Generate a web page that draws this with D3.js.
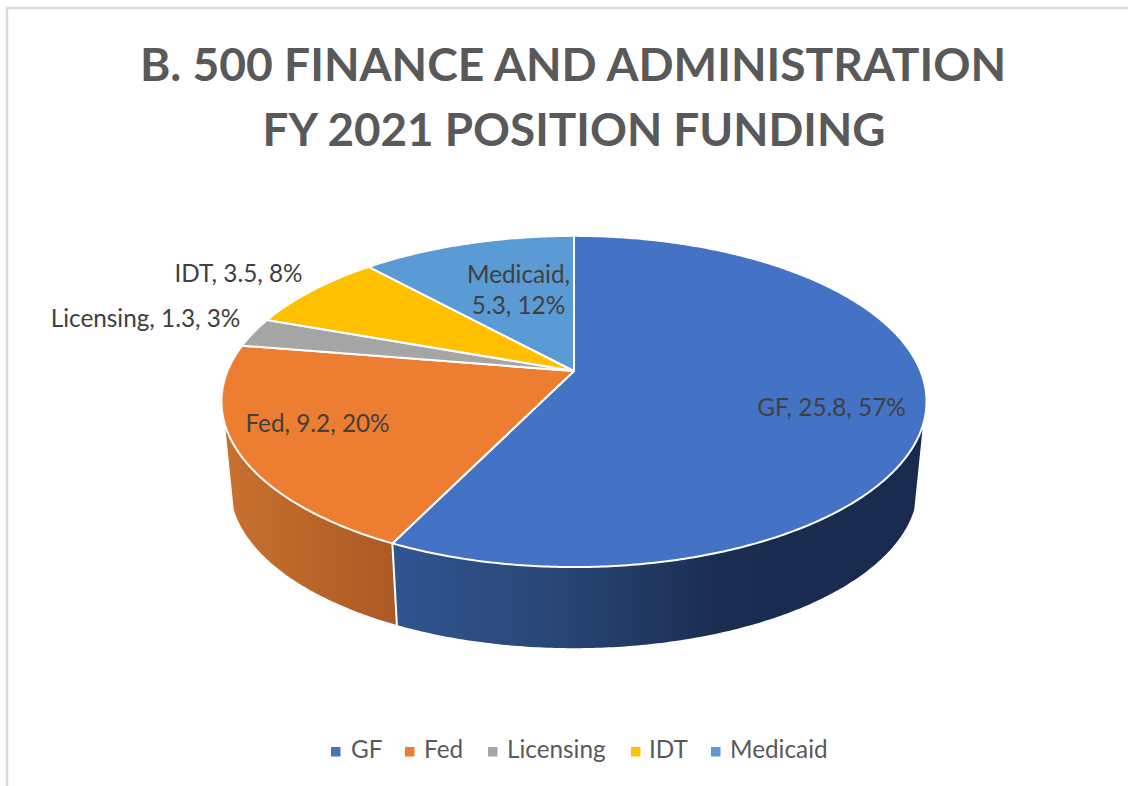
<!DOCTYPE html>
<html><head><meta charset="utf-8">
<script src="https://cdn.jsdelivr.net/npm/d3@7/dist/d3.min.js"></script>
<style>html,body{margin:0;padding:0;background:#fff;overflow:hidden}svg{display:block}text{font-family:Lato,sans-serif}</style>
</head><body><svg id="c" width="1128" height="786"></svg>
<script>
const titleLines = ["B. 500 FINANCE AND ADMINISTRATION", "FY 2021 POSITION FUNDING"];
const categories = ["GF", "Fed", "Licensing", "IDT", "Medicaid"];
const values = [25.8, 9.2, 1.3, 3.5, 5.3];
const colors = ["#4472C4", "#ED7D31", "#A5A5A5", "#FFC000", "#5B9BD5"];

const W = 1128, H = 786;
const svg = d3.select("#c");

// frame
svg.append("path").attr("d", `M7,${H} V8 H${W}`).attr("fill","none").attr("stroke","#d9d9d9").attr("stroke-width",2.4);

// title
svg.selectAll("text.t").data(titleLines).join("text").attr("class","t")
  .attr("x", (d,i)=>[573,574][i]).attr("y",(d,i)=>[81,145.5][i]).attr("text-anchor","middle")
  .attr("font-size",(d,i)=>[46.2,45.8][i]).attr("font-weight",700).attr("fill","#595959").text(d=>d);

// perspective projection of the pie disc
const cx=574, cy=371, k=0.184, Rx=346.5, Ry=160, depth=86, shrink=0.975;
function project(a, bottom){
  const u=Math.sin(a), v=-Math.cos(a), w=1-k*v;
  const x=Rx*u/w, y=Ry*v/w;
  return bottom ? [cx+x*shrink, cy+depth+y*shrink] : [cx+x, cy+y];
}
const arcs = d3.pie().sort(null).value(d=>d)(values);
const line = d3.line();
function sample(a0,a1,bottom){
  const n=Math.max(2,Math.ceil(Math.abs(a1-a0)/0.01));
  return d3.range(n+1).map(i=>project(a0+(a1-a0)*i/n,bottom));
}

const defs=svg.append("defs");
function grad(id,stops,x1,x2){
  const g=defs.append("linearGradient").attr("id",id).attr("gradientUnits","userSpaceOnUse")
    .attr("x1",x1).attr("x2",x2).attr("y1",0).attr("y2",0);
  stops.forEach(s=>g.append("stop").attr("offset",s[0]).attr("stop-color",s[1]));
}
grad("gfSide",[[0,"#30548F"],[0.3,"#294676"],[0.62,"#1A2D50"],[1,"#182B4E"]],397,920);
grad("fedSide",[[0,"#C8702E"],[0.5,"#B96529"],[1,"#AB5A24"]],228,397);

// visible sides (front of the disc only)
const rightVisible = 108.5*Math.PI/180, leftVisible = 251.5*Math.PI/180;
function side(a0,a1,fill){
  const pts=sample(a0,a1,false).concat(sample(a1,a0,true));
  svg.append("path").attr("d",line(pts)+"Z").attr("fill",fill);
}
side(rightVisible,arcs[0].endAngle,"url(#gfSide)");
side(arcs[1].startAngle,leftVisible,"url(#fedSide)");
// front rim line between the two sides
svg.append("path").attr("d",line([project(arcs[0].endAngle,false),project(arcs[0].endAngle,true)]))
  .attr("stroke","#fff").attr("stroke-width",2).attr("fill","none");

// top face
svg.selectAll("path.s").data(arcs).join("path").attr("class","s")
  .attr("d",d=>line([[cx,cy]].concat(sample(d.startAngle,d.endAngle,false)))+"Z")
  .attr("fill",(d,i)=>colors[i]).attr("stroke","#fff").attr("stroke-width",2).attr("stroke-linejoin","round");

// data labels
const total=d3.sum(values), pct=d3.format(".0%");
const labelLines=values.map((v,i)=>{
  const full=[categories[i],v.toFixed(1),pct(v/total)];
  return i===4 ? [full[0]+",",full[1]+", "+full[2]] : [full.join(", ")];
});
const labelPos=[[831.5,416],[317.5,432],[145.5,327],[238.5,282],[518.5,283]];
labelLines.forEach((ls,i)=>{
  ls.forEach((l,j)=>{
    svg.append("text").attr("class","lab").attr("x",labelPos[i][0]).attr("y",labelPos[i][1]+j*31)
      .attr("text-anchor","middle").attr("font-size",24.3).attr("fill","#404040").text(l);
  });
});

// legend
const legSq=[331,405,488,631,711], legTx=[351,424,507,649,730];
categories.forEach((c,i)=>{
  svg.append("rect").attr("x",legSq[i]).attr("y",747).attr("width",9.5).attr("height",9.5).attr("fill",colors[i]);
  svg.append("text").attr("x",legTx[i]).attr("y",758).attr("font-size",24.3).attr("fill","#595959").text(c);
});
</script></body></html>
